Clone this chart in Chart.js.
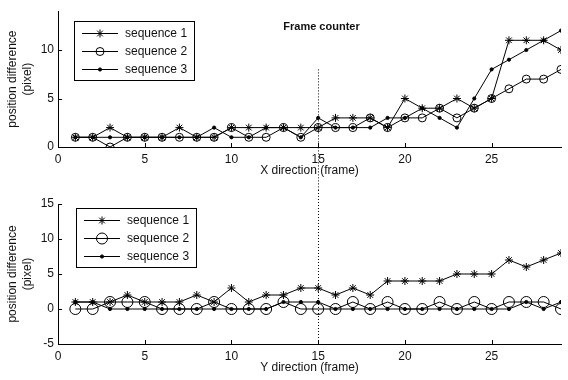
<!DOCTYPE html>
<html>
<head>
<meta charset="utf-8">
<script src="https://cdn.jsdelivr.net/npm/chart.js@4.4.0/dist/chart.umd.min.js"></script>
<style>
  html, body { margin: 0; padding: 0; background: #fff; }
  .panel { width: 568px; height: 190px; }
  canvas { display: block; }
</style>
</head>
<body>
<div class="panel"><canvas id="chartX" width="568" height="190"></canvas></div>
<div class="panel"><canvas id="chartY" width="568" height="190"></canvas></div>
<script>
// --- data ---
const frames = [1, 2, 3, 4, 5, 6, 7, 8, 9, 10, 11, 12, 13, 14, 15, 16, 17, 18, 19, 20, 21, 22, 23, 24, 25, 26, 27, 28, 29];
const seriesNames = ['sequence 1', 'sequence 2', 'sequence 3'];

// X direction
const xSeq1 = [1, 1, 2, 1, 1, 1, 2, 1, 1, 2, 2, 2, 2, 2, 2, 3, 3, 3, 2, 5, 4, 4, 5, 4, 5, 11, 11, 11, 10];
const xSeq2 = [1, 1, 0, 1, 1, 1, 1, 1, 1, 2, 1, 1, 2, 1, 2, 2, 2, 3, 2, 3, 3, 4, 3, 4, 5, 6, 7, 7, 8];
const xSeq3 = [1, 1, 1, 1, 1, 1, 1, 1, 2, 1, 1, 2, 2, 1, 3, 2, 2, 2, 3, 3, 4, 3, 2, 5, 8, 9, 10, 11, 12];

// Y direction
const ySeq1 = [1, 1, 1, 2, 1, 1, 1, 2, 1, 3, 1, 2, 2, 3, 3, 2, 3, 2, 4, 4, 4, 4, 5, 5, 5, 7, 6, 7, 8];
const ySeq2 = [0, 0, 1, 1, 1, 0, 0, 0, 1, 0, 0, 0, 1, 0, 0, 0, 1, 0, 1, 0, 0, 1, 0, 1, 0, 1, 1, 1, 0];
const ySeq3 = [1, 1, 0, 0, 0, 0, 0, 0, 0, 0, 0, 0, 1, 1, 1, 0, 0, 0, 0, 0, 0, 0, 0, 0, 0, 0, 1, 0, 1];

const frameTicks = [0, 5, 10, 15, 20, 25];
const xDiffTicks = [0, 5, 10];
const yDiffTicks = [-5, 0, 5, 10, 15];
const counterFrame = 15;

Chart.defaults.font.family = '"Liberation Sans", Arial, sans-serif';
Chart.defaults.font.size = 12;
Chart.defaults.color = '#111';

const toPoints = (vals) => frames.map((f, i) => ({ x: f, y: vals[i] }));

function makeDatasets(s1, s2, s3, circleR) {
    const base = { borderColor: '#000', borderWidth: 1, pointBorderColor: '#000', pointBorderWidth: 1, tension: 0 };
    return [
        { ...base, label: seriesNames[0], data: toPoints(s1), pointStyle: 'star', pointRadius: 4, pointBackgroundColor: '#000' },
        { ...base, label: seriesNames[1], data: toPoints(s2), pointStyle: 'circle', pointRadius: circleR, pointBackgroundColor: 'rgba(0,0,0,0)' },
        { ...base, label: seriesNames[2], data: toPoints(s3), pointStyle: 'circle', pointRadius: 1.6, pointBackgroundColor: '#000' }
    ];
}

// inward ticks, frame counter line, boxed legend, note text
const matlabLook = {
    id: 'matlabLook',
    afterDraw(chart, args, opts) {
        const ctx = chart.ctx;
        const xs = chart.scales.x, ys = chart.scales.y, a = chart.chartArea;
        ctx.save();
        ctx.strokeStyle = '#000';
        ctx.lineWidth = 1;
        ctx.beginPath();
        xs.ticks.forEach(t => {
            const px = Math.round(xs.getPixelForValue(t.value)) + 0.5;
            ctx.moveTo(px, a.bottom);
            ctx.lineTo(px, a.bottom - 4);
        });
        ys.ticks.forEach(t => {
            const py = Math.round(ys.getPixelForValue(t.value)) + 0.5;
            ctx.moveTo(a.left, py);
            ctx.lineTo(a.left + 4, py);
        });
        ctx.stroke();

        // dotted frame counter line
        const fx = Math.round(xs.getPixelForValue(counterFrame)) + 0.5;
        const y0 = opts.lineFrom === 'top' ? 0 : ys.getPixelForValue(opts.lineFrom);
        const y1 = opts.lineTo === 'axis' ? a.bottom : chart.height;
        ctx.setLineDash([1, 2]);
        ctx.beginPath();
        ctx.moveTo(fx, y0);
        ctx.lineTo(fx, y1);
        ctx.stroke();
        ctx.setLineDash([]);

        if (opts.note) {
            ctx.font = 'bold 11px "Liberation Sans", Arial, sans-serif';
            ctx.fillStyle = '#111';
            ctx.textAlign = 'center';
            ctx.textBaseline = 'middle';
            ctx.fillText(opts.note, fx + 3, opts.noteY);
        }

        // legend box
        const lg = opts.legend;
        ctx.fillStyle = '#fff';
        ctx.fillRect(lg.left, lg.top, lg.width, lg.height);
        ctx.strokeRect(lg.left + 0.5, lg.top + 0.5, lg.width, lg.height);
        ctx.font = '12px "Liberation Sans", Arial, sans-serif';
        ctx.textAlign = 'left';
        ctx.textBaseline = 'middle';
        chart.data.datasets.forEach((ds, i) => {
            const ry = Math.round(lg.top + lg.firstRow + i * lg.rowH) + 0.5;
            ctx.strokeStyle = '#000';
            ctx.beginPath();
            ctx.moveTo(lg.left + 8, ry);
            ctx.lineTo(lg.left + 44, ry);
            ctx.stroke();
            ctx.fillStyle = ds.pointBackgroundColor;
            Chart.helpers.drawPoint(ctx, { pointStyle: ds.pointStyle, radius: ds.pointRadius, rotation: 0, borderWidth: 1 }, lg.left + 26, ry);
            ctx.fillStyle = '#111';
            ctx.fillText(ds.label, lg.left + 51, ry);
        });
        ctx.restore();
    }
};

function buildOptions(cfg) {
    return {
        responsive: false,
        animation: false,
        layout: { padding: { top: cfg.padTop, right: 7, left: 0, bottom: 0 } },
        plugins: {
            legend: { display: false },
            tooltip: { enabled: false },
            matlabLook: cfg.look
        },
        scales: {
            x: {
                type: 'linear',
                min: 0,
                max: 29,
                afterBuildTicks: s => { s.ticks = frameTicks.map(v => ({ value: v })); },
                afterFit: s => { s.height = cfg.xHeight; },
                grid: { display: false, drawTicks: false },
                border: { display: true, color: '#000', width: 1 },
                ticks: { padding: 5, maxRotation: 0, autoSkip: false },
                title: { display: true, text: cfg.xTitle, font: { size: 12 }, padding: { top: 0, bottom: cfg.xTitlePad } }
            },
            y: {
                type: 'linear',
                min: cfg.yMin,
                max: cfg.yMax,
                afterBuildTicks: s => { s.ticks = cfg.yTicks.map(v => ({ value: v })); },
                afterFit: s => { s.width = 58; },
                grid: { display: false, drawTicks: false },
                border: { display: true, color: '#000', width: 1 },
                ticks: { padding: 4 },
                title: { display: true, text: ['position difference', '(pixel)'], font: { size: 12, lineHeight: 1.25 }, padding: { top: 5, bottom: 0 } }
            }
        }
    };
}

new Chart(document.getElementById('chartX'), {
    type: 'line',
    data: { datasets: makeDatasets(xSeq1, xSeq2, xSeq3, 4) },
    options: buildOptions({
        padTop: 7, xHeight: 43, xTitle: 'X direction (frame)', xTitlePad: 12,
        yMin: 0, yMax: 14, yTicks: xDiffTicks,
        look: { lineFrom: 8, lineTo: 'bottom', note: 'Frame counter', noteY: 27,
                legend: { left: 74, top: 21, width: 120, height: 59, firstRow: 12, rowH: 18 } }
    }),
    plugins: [matlabLook]
});

new Chart(document.getElementById('chartY'), {
    type: 'line',
    data: { datasets: makeDatasets(ySeq1, ySeq2, ySeq3, 5.5) },
    options: buildOptions({
        padTop: 14, xHeight: 36, xTitle: 'Y direction (frame)', xTitlePad: 5,
        yMin: -5, yMax: 15, yTicks: yDiffTicks,
        look: { lineFrom: 'top', lineTo: 'axis', note: null,
                legend: { left: 76, top: 18, width: 120, height: 59, firstRow: 12, rowH: 18 } }
    }),
    plugins: [matlabLook]
});
</script>
</body>
</html>
